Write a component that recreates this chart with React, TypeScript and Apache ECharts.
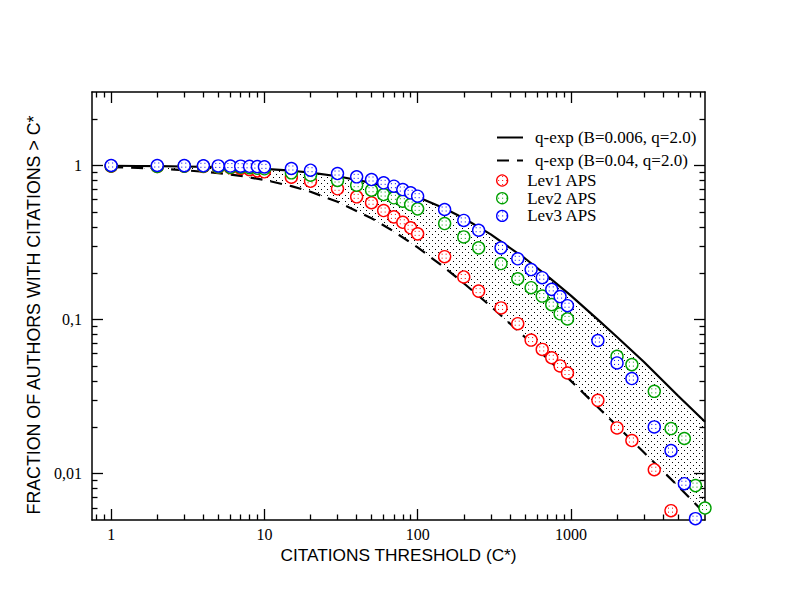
import React, { useEffect, useRef } from "react";
import * as echarts from "echarts";

// ---------- data ----------
const X_MIN = 0.75;
const X_MAX = 7500;
const Y_MIN = 0.005;
const Y_MAX = 3;

const xMajorTicks = [1, 10, 100, 1000];
const xTickLabels = ["1", "10", "100", "1000"];
const xMinorTicks = [
  0.8, 0.9, 2, 3, 4, 5, 6, 7, 8, 9, 20, 30, 40, 50, 60, 70, 80, 90, 200, 300, 400,
  500, 600, 700, 800, 900, 2000, 3000, 4000, 5000, 6000, 7000,
];
const yMajorTicks = [0.01, 0.1, 1];
const yTickLabels = ["0,01", "0,1", "1"];
const yMinorTicks = [
  0.006, 0.007, 0.008, 0.009, 0.02, 0.03, 0.04, 0.05, 0.06, 0.07, 0.08, 0.09, 0.2,
  0.3, 0.4, 0.5, 0.6, 0.7, 0.8, 0.9, 2,
];

// model curves
const curveX = [
  1, 1.5, 2, 3, 5, 7, 10, 15, 20, 30, 50, 70, 100, 150, 200, 300, 500, 700, 1000,
  1500, 2000, 3000, 5000, 7500,
];
const solidY = [
  0.996, 0.993, 0.99, 0.985, 0.976, 0.966, 0.952, 0.925, 0.9, 0.852, 0.772, 0.706,
  0.625, 0.526, 0.455, 0.357, 0.25, 0.192, 0.143, 0.1, 0.077, 0.053, 0.032, 0.0217,
];
const dashedY = [
  0.977, 0.965, 0.954, 0.933, 0.893, 0.856, 0.806, 0.735, 0.676, 0.581, 0.455,
  0.373, 0.294, 0.217, 0.172, 0.122, 0.077, 0.056, 0.04, 0.027, 0.0204, 0.0137,
  0.0083, 0.0055,
];

const lev1X = [
  1, 2, 3, 4, 5, 6, 7, 8, 9, 10, 15, 20, 30, 40, 50, 60, 70, 80, 90, 100, 150, 200,
  250, 350, 450, 550, 650, 750, 850, 950, 1500, 2000, 2500, 3500, 4500,
];
const lev1Y = [
  0.99, 0.985, 0.988, 0.986, 0.975, 0.967, 0.956, 0.941, 0.923, 0.91, 0.84, 0.79,
  0.706, 0.626, 0.573, 0.51, 0.464, 0.428, 0.394, 0.36, 0.256, 0.189, 0.153, 0.119,
  0.094, 0.0736, 0.064, 0.0565, 0.05, 0.045, 0.0299, 0.0198, 0.0164, 0.0106, 0.00575,
];
const lev2X = [
  1, 2, 3, 4, 5, 6, 7, 8, 9, 10, 15, 20, 30, 40, 50, 60, 70, 80, 90, 100, 150, 200,
  250, 350, 450, 550, 650, 750, 850, 950, 2000, 2500, 3500, 4500, 5500, 6500, 7500,
];
const lev2Y = [
  0.993, 0.985, 0.991, 0.989, 0.979, 0.973, 0.975, 0.969, 0.959, 0.952, 0.896, 0.865,
  0.799, 0.745, 0.691, 0.648, 0.617, 0.586, 0.558, 0.523, 0.42, 0.344, 0.292, 0.231,
  0.184, 0.161, 0.142, 0.125, 0.109, 0.101, 0.0578, 0.051, 0.0342, 0.0196, 0.0169,
  0.00836, 0.00598,
];
const lev3X = [
  1, 2, 3, 4, 5, 6, 7, 8, 9, 10, 15, 20, 30, 40, 50, 60, 70, 80, 90, 100, 150, 200,
  250, 350, 450, 550, 650, 750, 850, 950, 1500, 2000, 2500, 3500, 4500, 5500, 6500,
];
const lev3Y = [
  1.0, 1.0, 0.998, 0.996, 0.994, 0.992, 0.99, 0.988, 0.984, 0.98, 0.956, 0.932,
  0.887, 0.844, 0.811, 0.772, 0.734, 0.698, 0.665, 0.632, 0.518, 0.44, 0.38, 0.292,
  0.248, 0.211, 0.187, 0.157, 0.141, 0.123, 0.0731, 0.0523, 0.0414, 0.0201, 0.0141,
  0.0086, 0.0051,
];

const NAME_SOLID = "q-exp (B=0.006, q=2.0)";
const NAME_DASHED = "q-exp (B=0.04, q=2.0)";
const NAME_L1 = "Lev1 APS";
const NAME_L2 = "Lev2 APS";
const NAME_L3 = "Lev3 APS";
const COL_L1 = "#ff0000";
const COL_L2 = "#00a000";
const COL_L3 = "#0000ff";

const SERIF = '"Liberation Serif", "Times New Roman", "DejaVu Serif", serif';
const SANS = '"Liberation Sans", Arial, Helvetica, sans-serif';
const SYMBOL_SIZE = 12;

function zip(xs: number[], ys: number[]) {
  return xs.map((x, i) => [x, ys[i]]);
}

function dotCanvas(
  size: number,
  dots: number[][],
  color: string,
  bg: string | null
): HTMLCanvasElement {
  const c = document.createElement("canvas");
  c.width = size;
  c.height = size;
  const ctx = c.getContext("2d")!;
  if (bg) {
    ctx.fillStyle = bg;
    ctx.fillRect(0, 0, size, size);
  }
  ctx.fillStyle = color;
  dots.forEach(([x, y]) => ctx.fillRect(x, y, 1, 1));
  return c;
}

function labelFor(v: number, ticks: number[], labels: string[]) {
  let best = 0;
  let bd = Infinity;
  ticks.forEach((t, i) => {
    const d = Math.abs(Math.log10(v) - Math.log10(t));
    if (d < bd) {
      bd = d;
      best = i;
    }
  });
  return labels[best];
}

export default function App() {
  const ref = useRef<HTMLDivElement>(null);

  useEffect(() => {
    document.body.style.margin = "0";
    if (!ref.current) return;
    const chart = echarts.init(ref.current, null, { renderer: "svg" });

    const areaPattern = dotCanvas(6, [[0, 0], [3, 3]], "#000000", null);
    // symbols are unit paths scaled by size/2, so counter-scale the pattern
    const symScale = 2 / SYMBOL_SIZE;
    const mkSym = (col: string) =>
      ({
        image: dotCanvas(4, [[1, 1]], col, "#ffffff"),
        repeat: "repeat",
        scaleX: symScale,
        scaleY: symScale,
      } as any);
    const mkLeg = (col: string) =>
      ({
        image: dotCanvas(4, [[1, 1]], col, "#ffffff"),
        repeat: "repeat",
      } as any);

    const axisLineStyle = { color: "#000", width: 1.5 };
    const tickStyle = { color: "#000", width: 1.3 };

    const xAx = (
      position: string,
      ticks: number[],
      len: number,
      main: boolean,
      line: boolean
    ): any => ({
      type: "log",
      logBase: 10,
      min: X_MIN,
      max: X_MAX,
      position,
      name: main ? "CITATIONS THRESHOLD (C*)" : "",
      nameLocation: "middle",
      nameGap: 23,
      nameTextStyle: { fontFamily: SANS, fontSize: 17.3, color: "#000" },
      axisLine: { show: line, onZero: false, lineStyle: axisLineStyle },
      axisTick: {
        show: true,
        inside: true,
        length: len,
        customValues: ticks,
        lineStyle: tickStyle,
      },
      axisLabel: main
        ? {
            show: true,
            customValues: xMajorTicks,
            margin: 6,
            fontFamily: SERIF,
            fontSize: 16,
            color: "#000",
            formatter: (v: number) => labelFor(v, xMajorTicks, xTickLabels),
          }
        : { show: false },
      splitLine: { show: false },
      minorTick: { show: false },
      minorSplitLine: { show: false },
    });

    const yAx = (
      position: string,
      ticks: number[],
      len: number,
      main: boolean,
      line: boolean
    ): any => ({
      type: "log",
      logBase: 10,
      min: Y_MIN,
      max: Y_MAX,
      position,
      name: main ? "FRACTION OF AUTHORS WITH CITATIONS > C*" : "",
      nameLocation: "middle",
      nameGap: 39,
      nameRotate: 90,
      nameTextStyle: {
        fontFamily: SANS,
        fontSize: 17.8,
        color: "#000",
        padding: [0, 18, 0, 0],
      },
      axisLine: { show: line, onZero: false, lineStyle: axisLineStyle },
      axisTick: {
        show: true,
        inside: true,
        length: len,
        customValues: ticks,
        lineStyle: tickStyle,
      },
      axisLabel: main
        ? {
            show: true,
            customValues: yMajorTicks,
            margin: 10,
            fontFamily: SERIF,
            fontSize: 16,
            color: "#000",
            formatter: (v: number) => labelFor(v, yMajorTicks, yTickLabels),
          }
        : { show: false },
      splitLine: { show: false },
      minorTick: { show: false },
      minorSplitLine: { show: false },
    });

    const scatterSeries = (name: string, xs: number[], ys: number[], col: string): any => ({
      name,
      type: "scatter",
      xAxisIndex: 0,
      yAxisIndex: 0,
      data: zip(xs, ys),
      symbol: "circle",
      symbolSize: SYMBOL_SIZE,
      itemStyle: {
        color: mkSym(col),
        borderColor: col,
        borderWidth: 1.4,
        opacity: 1,
      },
      emphasis: { disabled: true },
      clip: false,
    });

    const legendText = {
      fontFamily: SERIF,
      fontSize: 17,
      color: "#000",
      padding: [0, 0, 0, 7],
    };

    const option: any = {
      animation: false,
      backgroundColor: "#ffffff",
      grid: {
        left: 92,
        right: 87,
        top: 92,
        bottom: 92,
        containLabel: false,
        outerBoundsMode: "none",
      },
      xAxis: [
        xAx("bottom", xMajorTicks, 11, true, true),
        xAx("bottom", xMinorTicks, 5.5, false, false),
        xAx("top", xMajorTicks, 11, false, true),
        xAx("top", xMinorTicks, 5.5, false, false),
      ],
      yAxis: [
        yAx("left", yMajorTicks, 11, true, true),
        yAx("left", yMinorTicks, 5.5, false, false),
        yAx("right", yMajorTicks, 11, false, true),
        yAx("right", yMinorTicks, 5.5, false, false),
      ],
      legend: [
        {
          data: [NAME_SOLID, NAME_DASHED],
          orient: "vertical",
          left: 496,
          top: 129,
          padding: 0,
          itemWidth: 26,
          itemHeight: 14,
          itemGap: 6,
          selectedMode: false,
          itemStyle: { opacity: 0 },
          textStyle: legendText,
        },
        {
          data: [
            { name: NAME_L1, itemStyle: { color: mkLeg(COL_L1), borderColor: COL_L1, borderWidth: 1.3 } },
            { name: NAME_L2, itemStyle: { color: mkLeg(COL_L2), borderColor: COL_L2, borderWidth: 1.3 } },
            { name: NAME_L3, itemStyle: { color: mkLeg(COL_L3), borderColor: COL_L3, borderWidth: 1.3 } },
          ],
          orient: "vertical",
          left: 496,
          top: 172,
          padding: 0,
          itemWidth: 26,
          itemHeight: 11,
          itemGap: 0.7,
          selectedMode: false,
          textStyle: legendText,
        },
      ],
      series: [
        {
          type: "custom",
          name: "band",
          xAxisIndex: 0,
          yAxisIndex: 0,
          data: [[1, 1]],
          clip: true,
          silent: true,
          z: 1,
          renderItem: (_params: any, api: any) => {
            const top = curveX.map((x, i) => api.coord([x, solidY[i]]));
            const bot = curveX.map((x, i) => api.coord([x, dashedY[i]])).reverse();
            return {
              type: "polygon",
              shape: { points: top.concat(bot) },
              style: {
                fill: { image: areaPattern, repeat: "repeat" },
                stroke: null,
              },
            };
          },
        },
        {
          name: NAME_SOLID,
          type: "line",
          xAxisIndex: 0,
          yAxisIndex: 0,
          data: zip(curveX, solidY),
          symbol: "none",
          smooth: false,
          lineStyle: { color: "#000", width: 2.2, type: "solid" },
          itemStyle: { color: "#000" },
          emphasis: { disabled: true },
          z: 2,
        },
        {
          name: NAME_DASHED,
          type: "line",
          xAxisIndex: 0,
          yAxisIndex: 0,
          data: zip(curveX, dashedY),
          symbol: "none",
          lineStyle: { color: "#000", width: 2.2, type: [12, 8] },
          itemStyle: { color: "#000" },
          emphasis: { disabled: true },
          z: 2,
        },
        { ...scatterSeries(NAME_L1, lev1X, lev1Y, COL_L1), z: 3 },
        { ...scatterSeries(NAME_L2, lev2X, lev2Y, COL_L2), z: 4 },
        { ...scatterSeries(NAME_L3, lev3X, lev3Y, COL_L3), z: 5 },
      ],
    };

    chart.setOption(option);
    return () => {
      chart.dispose();
    };
  }, []);

  return <div ref={ref} style={{ width: 792, height: 612 }} />;
}
